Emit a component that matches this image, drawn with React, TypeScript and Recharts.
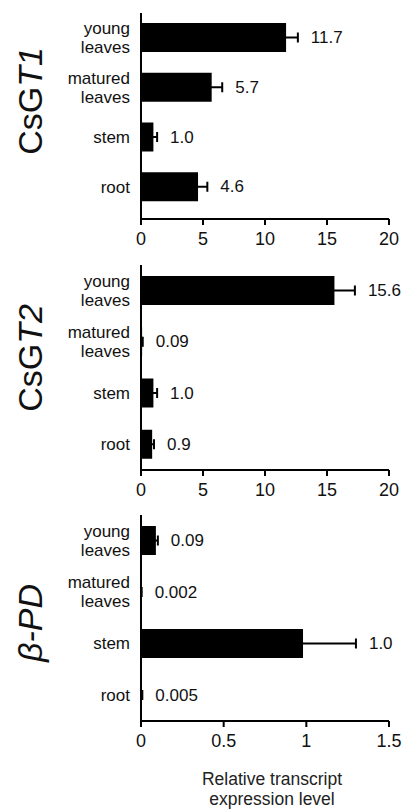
import { Bar, BarChart, ErrorBar, LabelList, XAxis, YAxis } from "recharts";

const tissues = ["young leaves", "matured leaves", "stem", "root"];

const gt1Values = [11.7, 5.7, 1.0, 4.6];
const gt1Errors = [0.95, 0.85, 0.3, 0.75];
const gt1Labels = ["11.7", "5.7", "1.0", "4.6"];

const gt2Values = [15.6, 0.09, 1.0, 0.9];
const gt2Errors = [1.65, 0.05, 0.3, 0.15];
const gt2Labels = ["15.6", "0.09", "1.0", "0.9"];

const pdValues = [0.09, 0.002, 0.98, 0.005];
const pdErrors = [0.012, 0.002, 0.32, 0.003];
const pdLabels = ["0.09", "0.002", "1.0", "0.005"];

const gtTicks = [0, 5, 10, 15, 20];
const pdTicks = [0, 0.5, 1, 1.5];

const FONT = '"Liberation Sans", Arial, sans-serif';
const PLOT_WIDTH = 248;
const INK = "#111";

function buildRows(values: number[], errors: number[], labels: string[]) {
  return tissues.map((tissue, i) => ({
    tissue,
    value: values[i],
    error: errors[i],
    label: labels[i],
  }));
}

function TissueTick(props: any) {
  const { x, y, payload } = props;
  const words = String(payload.value).split(" ");
  const lines = words.length > 1 ? words : [payload.value];
  const offsets = lines.length > 1 ? [-9.5, 9.5] : [0];

  return (
    <g>
      {lines.map((line: string, i: number) => (
        <text
          key={line + i}
          x={x}
          y={y + offsets[i]}
          textAnchor="end"
          dominantBaseline="central"
          fontSize={17}
          fontFamily={FONT}
          fill={INK}
        >
          {line}
        </text>
      ))}
    </g>
  );
}

type PanelProps = {
  rows: ReturnType<typeof buildRows>;
  maxValue: number;
  ticks: number[];
  plotHeight: number;
  paddingBottom: number;
};

function ExpressionPanel({ rows, maxValue, ticks, plotHeight, paddingBottom }: PanelProps) {
  // value labels sit just past the end of the error bar
  const renderValue = (props: any) => {
    const { x, y, height, index } = props;
    const row = rows[index];
    const end = x + ((row.value + row.error) / maxValue) * PLOT_WIDTH;

    return (
      <text
        x={end + 13}
        y={y + height / 2}
        dominantBaseline="central"
        fontSize={17}
        fontFamily={FONT}
        fill={INK}
      >
        {row.label}
      </text>
    );
  };

  return (
    <BarChart
      layout="vertical"
      width={402}
      height={13 + plotHeight + 40}
      data={rows}
      margin={{ top: 13, right: 13, bottom: 0, left: 0 }}
    >
      <XAxis
        type="number"
        domain={[0, maxValue]}
        ticks={ticks}
        interval={0}
        height={40}
        axisLine={{ stroke: "#000", strokeWidth: 2 }}
        tickLine={{ stroke: "#000", strokeWidth: 2 }}
        tickSize={6}
        tickMargin={7}
        tick={{ fontSize: 18, fill: INK, fontFamily: FONT }}
      />
      <YAxis
        type="category"
        dataKey="tissue"
        width={141}
        padding={{ top: 0, bottom: paddingBottom }}
        axisLine={{ stroke: "#000", strokeWidth: 2 }}
        tickLine={false}
        tickSize={0}
        tickMargin={11}
        tick={<TissueTick />}
      />
      <Bar dataKey="value" fill="#000" barSize={29} isAnimationActive={false}>
        <ErrorBar
          dataKey="error"
          direction="x"
          width={5}
          stroke="#000"
          strokeWidth={2}
          isAnimationActive={false}
        />
        <LabelList dataKey="label" content={renderValue} />
      </Bar>
    </BarChart>
  );
}

export default function App() {
  return (
    <div
      style={{
        position: "absolute",
        left: 0,
        top: 0,
        width: 402,
        height: 810,
        background: "#fff",
        fontFamily: FONT,
      }}
    >
      <div style={{ position: "absolute", left: 0, top: 0 }}>
        <ExpressionPanel
          rows={buildRows(gt1Values, gt1Errors, gt1Labels)}
          maxValue={20}
          ticks={gtTicks}
          plotHeight={206}
          paddingBottom={7}
        />
      </div>
      <div style={{ position: "absolute", left: 0, top: 252 }}>
        <ExpressionPanel
          rows={buildRows(gt2Values, gt2Errors, gt2Labels)}
          maxValue={20}
          ticks={gtTicks}
          plotHeight={205}
          paddingBottom={0}
        />
      </div>
      <div style={{ position: "absolute", left: 0, top: 502 }}>
        <ExpressionPanel
          rows={buildRows(pdValues, pdErrors, pdLabels)}
          maxValue={1.5}
          ticks={pdTicks}
          plotHeight={206}
          paddingBottom={0}
        />
      </div>

      <svg
        width={402}
        height={810}
        style={{ position: "absolute", left: 0, top: 0, pointerEvents: "none" }}
      >
        <text
          transform="translate(30 101) rotate(-90)"
          textAnchor="middle"
          dominantBaseline="central"
          fontSize={34}
          fontFamily={FONT}
          fill={INK}
        >
          CsG<tspan fontStyle="italic">T1</tspan>
        </text>
        <text
          transform="translate(30 358) rotate(-90)"
          textAnchor="middle"
          dominantBaseline="central"
          fontSize={34}
          fontFamily={FONT}
          fill={INK}
        >
          CsG<tspan fontStyle="italic">T2</tspan>
        </text>
        <text
          transform="translate(30 623) rotate(-90)"
          textAnchor="middle"
          dominantBaseline="central"
          fontSize={34}
          fontStyle="italic"
          fontFamily={FONT}
          fill={INK}
        >
          β-PD
        </text>
        <text
          x={272}
          y={779}
          textAnchor="middle"
          dominantBaseline="central"
          fontSize={17.5}
          fontFamily={FONT}
          fill="#222"
        >
          Relative transcript
        </text>
        <text
          x={272}
          y={799}
          textAnchor="middle"
          dominantBaseline="central"
          fontSize={17.5}
          fontFamily={FONT}
          fill="#222"
        >
          expression level
        </text>
      </svg>
    </div>
  );
}
